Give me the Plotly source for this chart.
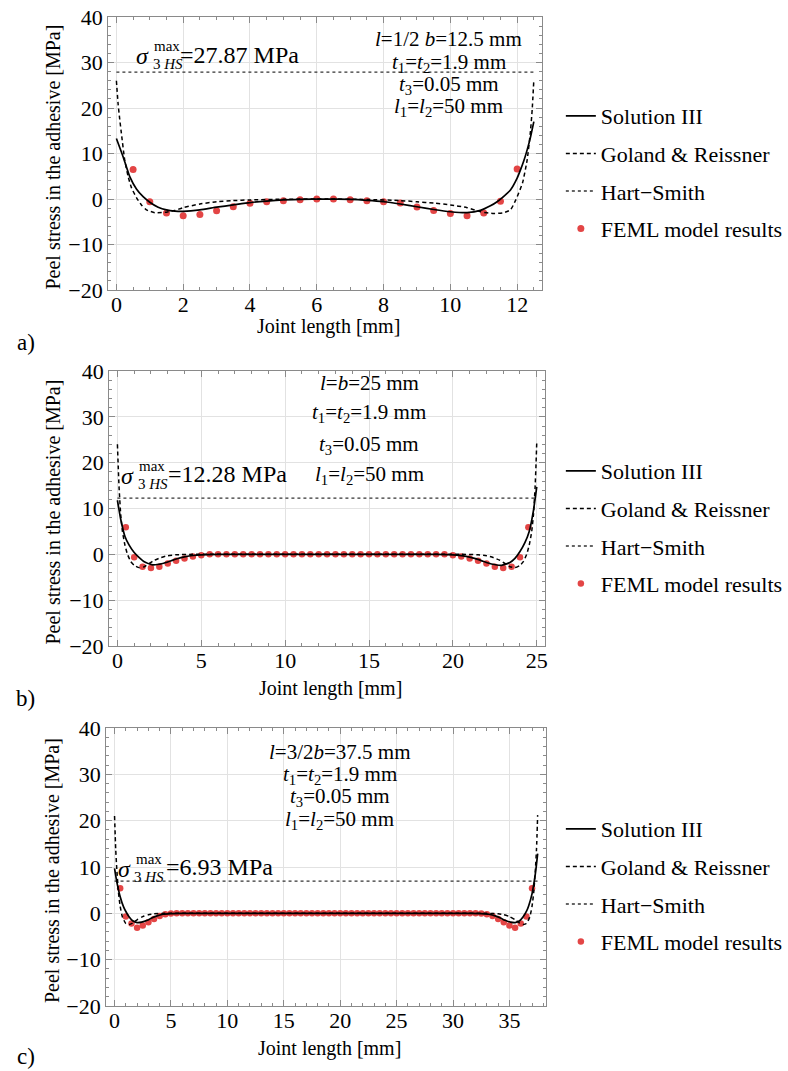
import plotly.graph_objects as go

W, H = 788, 1071
FONT = "Liberation Serif"
RED = "#e34545"

# ---------------- panel a) l = 12.5 mm ----------------
a_sol_x = [0, 0.2, 0.4, 0.6, 0.8, 1.0, 1.25, 1.5, 1.75, 2.0, 2.5, 3.0, 3.5, 4.0, 4.5,
           5.0, 5.5, 6.25, 7.0, 7.5, 8.0, 8.5, 9.0, 9.5, 10.0, 10.5, 10.9, 11.2, 11.4,
           11.6, 11.8, 12.0, 12.1, 12.2, 12.3, 12.4, 12.5]
a_sol_y = [13.3, 9.3, 4.9, 2.2, 0.5, -0.7, -1.8, -2.4, -2.65, -2.7, -2.4, -1.8, -1.3, -0.8, -0.45,
           -0.2, -0.1, 0.0, -0.1, -0.3, -0.6, -1.1, -1.7, -2.3, -2.8, -3.0, -2.5, -1.5, -0.6,
           0.6, 2.0, 4.6, 6.4, 8.4, 10.8, 13.6, 17.0]
a_gr_x = [0, 0.05, 0.1, 0.15, 0.25, 0.35, 0.45, 0.6, 0.75, 0.9, 1.15, 1.5, 1.75, 2.0, 2.5,
          3.0, 3.5, 4.0, 5.0, 6.25, 7.5, 8.5, 9.0, 9.5, 10.0, 10.5, 10.9, 11.3, 11.6, 11.8,
          11.96, 12.16, 12.3, 12.4, 12.45, 12.5]
a_gr_y = [26.0, 21.0, 17.5, 14.4, 8.5, 5.0, 2.5, 0.3, -1.3, -2.4, -3.0, -2.9, -2.5, -1.9, -1.1,
          -0.6, -0.35, -0.2, -0.05, 0.0, -0.1, -0.35, -0.6, -0.9, -1.3, -1.9, -2.8, -3.2, -3.0, -2.4,
          -0.2, 3.5, 8.6, 15.0, 19.6, 26.2]
a_hs_x = [0, 12.5]
a_hs_y = [27.87, 27.87]
a_fe_x = [0.5, 1.0, 1.5, 2.0, 2.5, 3.0, 3.5, 4.0, 4.5, 5.0, 5.5, 6.0,
          6.5, 7.0, 7.5, 8.0, 8.5, 9.0, 9.5, 10.0, 10.5, 11.0, 11.5, 12.0]
a_fe_y = [6.5, -0.6, -3.1, -3.7, -3.4, -2.6, -1.7, -0.95, -0.6, -0.4, -0.15, 0.0,
          0.0, -0.15, -0.4, -0.6, -0.9, -1.75, -2.5, -3.2, -3.7, -3.1, -0.5, 6.6]

# ---------------- panel b) l = 25 mm ----------------
b_sol_x = [0, 0.2, 0.45, 0.7, 1.0, 1.3, 1.6, 2.1, 2.7, 3.2, 3.6, 4.0, 4.5, 5.0, 6.0,
           12.5, 19.0, 20.0, 20.5, 21.0, 21.4, 21.8, 22.3, 22.9, 23.4, 23.7, 24.0, 24.3,
           24.55, 24.8, 25.0]
b_sol_y = [11.8, 7.6, 3.9, 2.0, 0.4, -0.7, -1.6, -2.3, -2.0, -1.4, -0.9, -0.55, -0.25, -0.1, 0.0,
           0.0, 0.0, -0.1, -0.3, -0.6, -1.0, -1.5, -2.1, -2.4, -1.8, -0.9, 0.6, 2.6,
           5.0, 9.5, 14.7]
b_gr_x = [0, 0.05, 0.1, 0.2, 0.3, 0.45, 0.6, 0.8, 1.0, 1.3, 1.6, 1.9, 2.2, 2.6, 3.0,
          3.5, 4.5, 12.5, 20.5, 21.5, 22.0, 22.4, 22.8, 23.1, 23.4, 23.7, 24.0, 24.2, 24.4,
          24.55, 24.7, 24.8, 24.9, 24.95, 25.0]
b_gr_y = [24.0, 19.0, 14.5, 8.5, 5.0, 2.0, 0.0, -1.6, -2.4, -2.9, -2.7, -2.0, -1.3, -0.7, -0.3,
          -0.1, 0.0, 0.0, 0.0, -0.1, -0.3, -0.7, -1.3, -2.0, -2.7, -2.9, -2.4, -1.6, 0.0,
          2.0, 5.0, 8.5, 14.5, 19.0, 24.4]
b_hs_x = [0, 25]
b_hs_y = [12.28, 12.28]
b_fe_x = [0.5, 1.0, 1.5, 2.0, 2.5, 3.0, 3.5, 4.0, 4.5, 5.0,
          5.5, 6.0, 6.5, 7.0, 7.5, 8.0, 8.5, 9.0, 9.5, 10.0, 10.5, 11.0, 11.5, 12.0, 12.5,
          13.0, 13.5, 14.0, 14.5, 15.0, 15.5, 16.0, 16.5, 17.0, 17.5, 18.0, 18.5, 19.0, 19.5,
          20.0, 20.5, 21.0, 21.5, 22.0, 22.5, 23.0, 23.5, 24.0, 24.5]
b_fe_y = [5.9, -0.65, -2.7, -3.0, -2.7, -2.0, -1.4, -0.9, -0.45, -0.2,
          0.0, 0.0, 0.0, 0.0, 0.0, 0.0, 0.0, 0.0, 0.0, 0.0, 0.0, 0.0, 0.0, 0.0, 0.0,
          0.0, 0.0, 0.0, 0.0, 0.0, 0.0, 0.0, 0.0, 0.0, 0.0, 0.0, 0.0, 0.0, 0.0,
          -0.2, -0.45, -0.9, -1.4, -2.0, -2.7, -3.0, -2.7, -0.65, 5.9]

# ---------------- panel c) l = 37.5 mm ----------------
c_sol_x = [0, 0.2, 0.5, 0.8, 1.0, 1.3, 1.6, 2.0, 2.4, 2.9, 3.3, 3.7, 4.3, 5.0, 6.0,
           18.75, 31.5, 32.5, 33.2, 33.8, 34.2, 34.6, 35.1, 35.5, 35.9, 36.2, 36.5, 36.7,
           37.0, 37.3, 37.5]
c_sol_y = [9.7, 6.8, 3.6, 1.4, 0.4, -0.8, -1.6, -2.0, -1.9, -1.5, -1.0, -0.6, -0.2, -0.05, 0.0,
           0.0, 0.0, -0.05, -0.2, -0.6, -1.0, -1.5, -1.9, -2.0, -1.6, -0.8, 0.4, 1.6,
           4.2, 8.6, 12.9]
c_gr_x = [0, 0.1, 0.2, 0.35, 0.5, 0.7, 1.0, 1.3, 1.6, 2.0, 2.5, 3.0, 3.5, 4.5, 18.75,
          33.0, 34.0, 34.5, 35.0, 35.5, 35.9, 36.2, 36.5, 36.8, 37.0, 37.15, 37.3, 37.4, 37.5]
c_gr_y = [21.0, 14.0, 9.5, 4.5, 1.5, -0.8, -2.2, -2.4, -2.1, -1.4, -0.7, -0.3, -0.1, 0.0, 0.0,
          0.0, -0.1, -0.3, -0.7, -1.4, -2.1, -2.4, -2.2, -0.8, 1.5, 4.5, 9.5, 14.0, 21.2]
c_hs_x = [0, 37.5]
c_hs_y = [6.93, 6.93]
c_fe_x = [0.5, 1.0, 1.5, 2.0, 2.5, 3.0, 3.5, 4.0, 4.5, 5.0,
          5.5, 6.0, 6.5, 7.0, 7.5, 8.0, 8.5, 9.0, 9.5, 10.0, 10.5, 11.0, 11.5, 12.0,
          12.5, 13.0, 13.5, 14.0, 14.5, 15.0, 15.5, 16.0, 16.5, 17.0, 17.5, 18.0, 18.5,
          19.0, 19.5, 20.0, 20.5, 21.0, 21.5, 22.0, 22.5, 23.0, 23.5, 24.0, 24.5, 25.0,
          25.5, 26.0, 26.5, 27.0, 27.5, 28.0, 28.5, 29.0, 29.5, 30.0, 30.5, 31.0, 31.5, 32.0,
          32.5, 33.0, 33.5, 34.0, 34.5, 35.0, 35.5, 36.0, 36.5, 37.0]
c_fe_y = [5.4, -0.7, -2.2, -3.1, -2.6, -1.9, -1.2, -0.6, -0.2, -0.05,
          0.0, 0.0, 0.0, 0.0, 0.0, 0.0, 0.0, 0.0, 0.0, 0.0, 0.0, 0.0, 0.0, 0.0,
          0.0, 0.0, 0.0, 0.0, 0.0, 0.0, 0.0, 0.0, 0.0, 0.0, 0.0, 0.0, 0.0,
          0.0, 0.0, 0.0, 0.0, 0.0, 0.0, 0.0, 0.0, 0.0, 0.0, 0.0, 0.0, 0.0,
          0.0, 0.0, 0.0, 0.0, 0.0, 0.0, 0.0, 0.0, 0.0, 0.0, 0.0, 0.0, 0.0, 0.0,
          -0.05, -0.2, -0.6, -1.2, -1.9, -2.6, -3.1, -2.2, -0.7, 5.4]

# ---------------- labels ----------------
legend_names = ["Solution III", "Goland &amp; Reissner", "Hart\u2212Smith", "FEML model results"]
x_title = "Joint length [mm]"
y_title = "Peel stress in the adhesive [MPa]"
panel_labels = ["a)", "b)", "c)"]
hs_values = ["=27.87 MPa", "=12.28 MPa", "=6.93 MPa"]
param_texts = [
    ["<i>l</i>=1/2 <i>b</i>=12.5 mm", "<i>t</i><sub>1</sub>=<i>t</i><sub>2</sub>=1.9 mm",
     "<i>t</i><sub>3</sub>=0.05 mm", "<i>l</i><sub>1</sub>=<i>l</i><sub>2</sub>=50 mm"],
    ["<i>l</i>=<i>b</i>=25 mm", "<i>t</i><sub>1</sub>=<i>t</i><sub>2</sub>=1.9 mm",
     "<i>t</i><sub>3</sub>=0.05 mm", "<i>l</i><sub>1</sub>=<i>l</i><sub>2</sub>=50 mm"],
    ["<i>l</i>=3/2<i>b</i>=37.5 mm", "<i>t</i><sub>1</sub>=<i>t</i><sub>2</sub>=1.9 mm",
     "<i>t</i><sub>3</sub>=0.05 mm", "<i>l</i><sub>1</sub>=<i>l</i><sub>2</sub>=50 mm"],
]
x_ticks = [[0, 2, 4, 6, 8, 10, 12], [0, 5, 10, 15, 20, 25], [0, 5, 10, 15, 20, 25, 30, 35]]
y_ticks = [-20, -10, 0, 10, 20, 30, 40]


def fx(p):
    """pixel x -> paper fraction"""
    return p / W


def fy(p):
    """pixel y (from top) -> paper fraction"""
    return 1 - p / H


# layout geometry in pixels
geo = [
    dict(xd=(110, 552), yd=(17, 290), xr=[-0.25, 12.75], minor=0.5, leg=95, ms=7,
         params=(457, [39, 63, 85, 107]), sig=dict(s=(145, 56), mx=(155, 46), sb=(154, 64), v=(181, 55)),
         xt=326, lab=343),
    dict(xd=(111, 555), yd=(371, 646), xr=[-0.5, 25.5], minor=1, leg=450, ms=6.5,
         params=(376, [383, 413, 445, 475]), sig=dict(s=(130, 476), mx=(139, 466), sb=(138, 484), v=(169, 474)),
         xt=688, lab=698),
    dict(xd=(108, 556), yd=(728, 1006), xr=[-0.75, 38.25], minor=1, leg=808, ms=6.5,
         params=(346, [752, 775, 797, 820]), sig=dict(s=(127, 869), mx=(136, 859), sb=(134, 877), v=(167, 867)),
         xt=1048, lab=1056),
]

data = [
    (a_sol_x, a_sol_y, a_gr_x, a_gr_y, a_hs_x, a_hs_y, a_fe_x, a_fe_y),
    (b_sol_x, b_sol_y, b_gr_x, b_gr_y, b_hs_x, b_hs_y, b_fe_x, b_fe_y),
    (c_sol_x, c_sol_y, c_gr_x, c_gr_y, c_hs_x, c_hs_y, c_fe_x, c_fe_y),
]

fig = go.Figure()
layout = dict(
    template="none",
    width=W, height=H, margin=dict(l=0, r=0, t=0, b=0, pad=0), autosize=False,
    paper_bgcolor="white", plot_bgcolor="white", hovermode=False,
    font=dict(family=FONT, color="black", size=20),
    annotations=[],
)


def ann(text, x, y, size, xanchor="center", **kw):
    return dict(text=text, x=fx(x), y=fy(y), xref="paper", yref="paper", showarrow=False,
                xanchor=xanchor, yanchor="middle", font=dict(family=FONT, size=size, color="black"), **kw)


for i, (g, d) in enumerate(zip(geo, data)):
    sfx = "" if i == 0 else str(i + 1)
    xa, ya = "x" + sfx, "y" + sfx
    leg = "legend" + sfx
    sx, sy, gx, gy, hx, hy, fex, fey = d
    common = dict(xaxis=xa, yaxis=ya, legend=leg)
    fig.add_trace(go.Scatter(x=hx, y=hy, mode="lines", name=legend_names[2], legendgroup=f"g{i}c",
                             legendrank=3, line=dict(color="#333", width=1.3, dash="dot"), **common))
    fig.add_trace(go.Scatter(x=fex, y=fey, mode="markers", name=legend_names[3], legendgroup=f"g{i}d",
                             legendrank=4, marker=dict(color=RED, size=g["ms"]), **common))
    fig.add_trace(go.Scatter(x=gx, y=gy, mode="lines", name=legend_names[1], legendgroup=f"g{i}b",
                             legendrank=2, line=dict(color="black", width=1.5, dash="4px,3px",
                                                     shape="spline", smoothing=0.5), **common))
    fig.add_trace(go.Scatter(x=sx, y=sy, mode="lines", name=legend_names[0], legendgroup=f"g{i}a",
                             legendrank=1, line=dict(color="black", width=1.7,
                                                     shape="spline", smoothing=0.5), **common))

    axis_common = dict(
        showline=True, linecolor="#8a8a8a", linewidth=1, mirror="ticks",
        ticks="inside", ticklen=6, tickcolor="#8a8a8a", tickwidth=1,
        showgrid=True, gridcolor="#e2e2e2", gridwidth=1, zeroline=False,
        automargin=False, ticklabeloverflow="allow",
        tickfont=dict(family=FONT, size=22, color="black"),
    )
    layout["xaxis" + sfx] = dict(
        domain=[fx(g["xd"][0]), fx(g["xd"][1])], range=g["xr"], anchor=ya,
        tickmode="array", tickvals=x_ticks[i], ticklabelstandoff=-5,
        minor=dict(ticks="inside", ticklen=3, tickcolor="#8a8a8a", dtick=g["minor"], showgrid=False),
        **axis_common)
    layout["yaxis" + sfx] = dict(
        domain=[fy(g["yd"][1]), fy(g["yd"][0])], range=[-20, 40], anchor=xa,
        tickmode="array", tickvals=y_ticks,
        minor=dict(ticks="inside", ticklen=3, tickcolor="#8a8a8a", dtick=2, showgrid=False),
        **axis_common)
    layout[leg] = dict(
        x=fx(571), y=fy(g["leg"]), xanchor="left", yanchor="top",
        font=dict(family=FONT, size=22, color="black"), bgcolor="rgba(0,0,0,0)",
        traceorder="grouped", tracegroupgap=6, itemwidth=30, borderwidth=0,
    )

    A = layout["annotations"]
    A.append(ann(x_title, (g["xd"][0] + g["xd"][1]) / 2 + 3, g["xt"], 20))
    A.append(ann(y_title, 53, (g["yd"][0] + g["yd"][1]) / 2 + 4, 20, textangle=-90))
    A.append(ann(panel_labels[i], 26, g["lab"], 23))
    px_, pys = g["params"]
    for t, yy in zip(param_texts[i], pys):
        A.append(ann(t, px_, yy, 21))
    s = g["sig"]
    A.append(ann("<i>\u03c3</i>", s["s"][0], s["s"][1], 24))
    A.append(ann("max", s["mx"][0], s["mx"][1], 15, xanchor="left"))
    A.append(ann("3 <i>HS</i>", s["sb"][0], s["sb"][1], 15, xanchor="left"))
    A.append(ann(hs_values[i], s["v"][0], s["v"][1], 24, xanchor="left"))

fig.update_layout(**layout)
fig.write_html(
    "out.html",
    config={"displayModeBar": False, "staticPlot": False},
    post_script=("document.body.style.margin='0';document.body.style.overflow='hidden';"
                 "document.documentElement.style.overflow='hidden';"),
)
